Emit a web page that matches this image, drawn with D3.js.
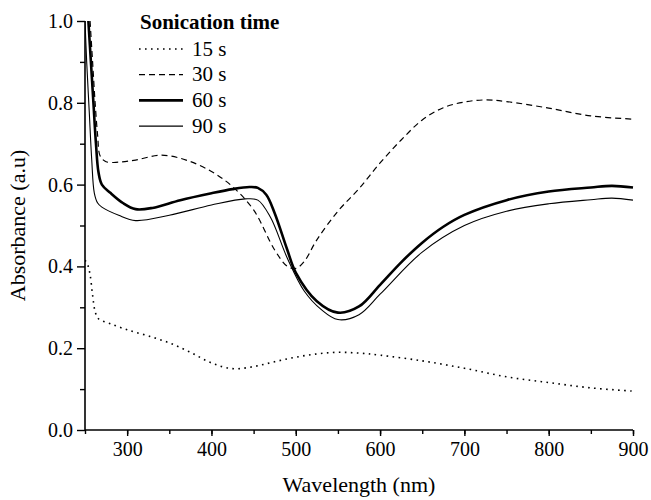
<!DOCTYPE html>
<html>
<head>
<meta charset="utf-8">
<script src="https://cdn.jsdelivr.net/npm/d3@7"></script>
</head>
<body style="margin:0; background:#fff">
<div class="vis-uv"></div>
<script>
// wavelength (nm) / absorbance pairs
const wl15 = [250, 253, 256, 259, 262, 266, 280, 300, 325, 350, 375, 400, 425, 450, 475, 500, 525, 550, 575, 600, 650, 700, 750, 800, 850, 900];
const abs15 = [0.415, 0.405, 0.38, 0.33, 0.29, 0.272, 0.26, 0.245, 0.23, 0.213, 0.19, 0.164, 0.15, 0.155, 0.167, 0.178, 0.186, 0.19, 0.188, 0.183, 0.169, 0.151, 0.13, 0.116, 0.103, 0.095];

const wl30 = [256, 259, 262, 265, 268, 275, 290, 310, 340, 370, 400, 425, 450, 475, 490, 500, 510, 525, 550, 575, 600, 625, 650, 675, 700, 725, 750, 800, 850, 900];
const abs30 = [1.0, 0.9, 0.8, 0.72, 0.67, 0.656, 0.655, 0.66, 0.672, 0.66, 0.632, 0.595, 0.538, 0.44, 0.40, 0.395, 0.412, 0.465, 0.535, 0.59, 0.653, 0.709, 0.758, 0.788, 0.802, 0.807, 0.803, 0.787, 0.768, 0.76];

const wl60 = [254, 257, 260, 263, 266, 270, 280, 295, 310, 330, 363, 400, 425, 445, 455, 465, 475, 490, 500, 525, 550, 575, 600, 625, 650, 675, 700, 750, 800, 850, 875, 900];
const abs60 = [1.0, 0.9, 0.8, 0.7, 0.63, 0.6, 0.58, 0.555, 0.54, 0.543, 0.562, 0.579, 0.589, 0.594, 0.592, 0.575, 0.53, 0.44, 0.385, 0.315, 0.287, 0.302, 0.355, 0.41, 0.458, 0.497, 0.526, 0.562, 0.583, 0.593, 0.597, 0.593];

const wl90 = [250, 252, 255, 258, 261, 265, 270, 290, 310, 350, 400, 440, 455, 470, 490, 510, 530, 550, 575, 600, 650, 700, 750, 800, 850, 875, 900];
const abs90 = [1.0, 0.9, 0.78, 0.66, 0.58, 0.555, 0.545, 0.525, 0.512, 0.525, 0.55, 0.565, 0.562, 0.52, 0.42, 0.34, 0.295, 0.27, 0.282, 0.332, 0.435, 0.50, 0.535, 0.553, 0.563, 0.567, 0.562];

const seriesNames = ["15 s", "30 s", "60 s", "90 s"];
const legendTitle = "Sonication time";
const xTicks = [300, 400, 500, 600, 700, 800, 900];
const yTicks = [0.0, 0.2, 0.4, 0.6, 0.8, 1.0];

const FONT = "'Liberation Serif'";

const draw = () => {
    const margin = {top: 21, right: 18, bottom: 70, left: 85};
    const W = 651, H = 500;
    const width = W - margin.left - margin.right;
    const height = H - margin.top - margin.bottom;

    let svg = d3.select('.vis-uv').append('svg')
        .attr('width', W)
        .attr('height', H)
        .append('g')
        .attr('transform', 'translate(' + margin.left + ',' + margin.top + ')');

    var x = d3.scaleLinear().domain([250, 900]).range([0, width]);
    var y = d3.scaleLinear().domain([0, 1]).range([height, 0]);

    // clip so the steep UV edge does not poke above 1.0
    svg.append('clipPath').attr('id', 'clip')
        .append('rect').attr('x', 0).attr('y', -1).attr('width', width + 1).attr('height', height + 1);

    // minor ticks first, then major ticks with labels
    svg.append('g')
        .attr('transform', 'translate(0,' + height + ')')
        .call(d3.axisBottom(x).tickValues(d3.range(250, 901, 50)).tickSize(4).tickFormat(''))
        .call(g => g.select('.domain').remove());
    svg.append('g')
        .attr('class', 'xaxis')
        .attr('transform', 'translate(0,' + height + ')')
        .call(d3.axisBottom(x).tickValues(xTicks).tickSize(6).tickPadding(6).tickFormat(d3.format('d')));

    svg.append('g')
        .call(d3.axisLeft(y).tickValues(d3.range(0.1, 1.0, 0.2)).tickSize(5).tickFormat(''))
        .call(g => g.select('.domain').remove());
    svg.append('g')
        .attr('class', 'yaxis')
        .call(d3.axisLeft(y).tickValues(yTicks).tickSize(8).tickPadding(4).tickFormat(d3.format('.1f')));

    svg.selectAll('g').attr('font-family', null);
    svg.selectAll('.domain').attr('stroke-width', 1.6);
    svg.selectAll('.tick line').attr('stroke-width', 1.4);
    svg.selectAll('.tick text')
        .style('font-family', FONT)
        .style('font-size', '20px')
        .attr('fill', '#000');
    svg.select('.yaxis .domain').attr('d', 'M0,' + height + 'V0');
    svg.select('.xaxis .domain').attr('d', 'M0,0H' + width);

    const series = [
        {xs: wl15, ys: abs15, dash: '1.6,4.4', w: 1.6},
        {xs: wl30, ys: abs30, dash: '6,4', w: 1.2},
        {xs: wl60, ys: abs60, dash: null, w: 2.6},
        {xs: wl90, ys: abs90, dash: null, w: 1.1}
    ];

    var line = d3.line()
        .x(d => x(d[0]))
        .y(d => y(d[1]))
        .curve(d3.curveCatmullRom.alpha(0.5));

    series.forEach(function(s) {
        svg.append('path')
            .datum(d3.zip(s.xs, s.ys))
            .attr('clip-path', 'url(#clip)')
            .attr('fill', 'none')
            .attr('stroke', '#000')
            .attr('stroke-width', s.w)
            .attr('stroke-dasharray', s.dash)
            .attr('d', line);
    });

    // axis titles
    svg.append('text')
        .attr('x', width / 2)
        .attr('y', height + 62)
        .attr('text-anchor', 'middle')
        .style('font-family', FONT)
        .style('font-size', '22px')
        .text('Wavelength (nm)');
    svg.append('text')
        .attr('transform', 'translate(' + (-60) + ',' + (height / 2) + ') rotate(-90)')
        .attr('text-anchor', 'middle')
        .style('font-family', FONT)
        .style('font-size', '22px')
        .text('Absorbance (a.u)');

    // handmade legend
    const lg = svg.append('g').attr('transform', 'translate(54,0)');
    lg.append('text').attr('x', 1).attr('y', 8)
        .style('font-family', FONT).style('font-size', '21px').style('font-weight', 'bold')
        .text(legendTitle);
    seriesNames.forEach(function(name, i) {
        const yy = 28 + i * 25.7;
        lg.append('line')
            .attr('x1', 0).attr('x2', 44).attr('y1', yy).attr('y2', yy)
            .attr('stroke', '#000')
            .attr('stroke-width', series[i].w)
            .attr('stroke-dasharray', series[i].dash);
        lg.append('text').attr('x', 53).attr('y', yy + 6.5)
            .style('font-family', FONT).style('font-size', '21px')
            .text(name);
    });
}

draw();
</script>
</body>
</html>
